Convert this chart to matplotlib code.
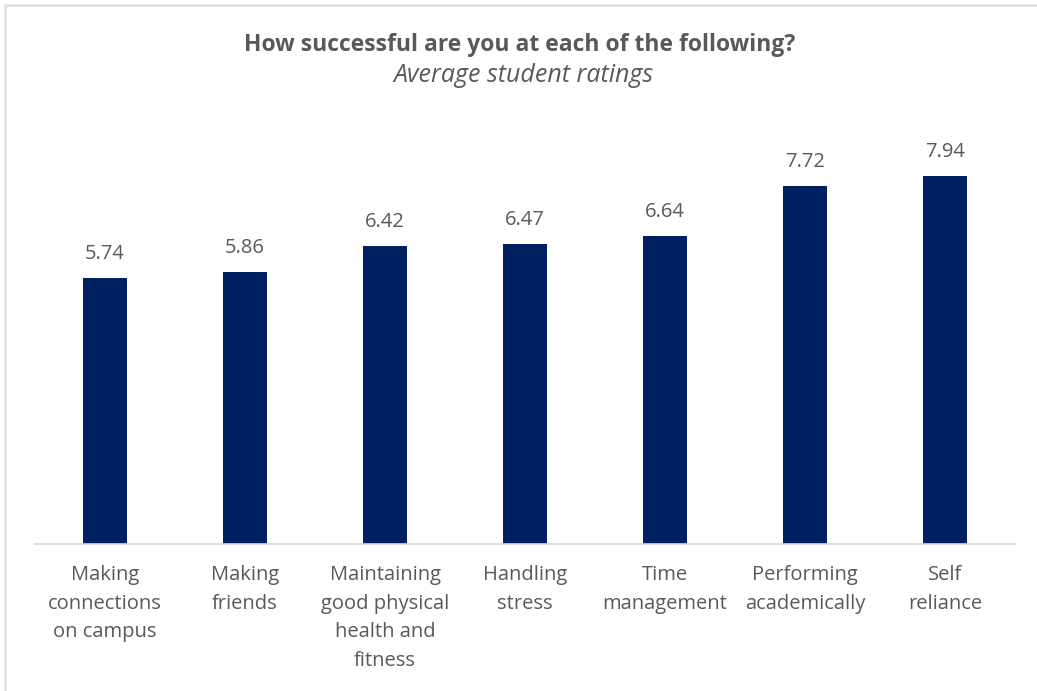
import matplotlib.pyplot as plt
from matplotlib.patches import Rectangle

# survey items and average ratings
categories = ['Making\nconnections\non campus', 'Making\nfriends',
              'Maintaining\ngood physical\nhealth and\nfitness',
              'Handling\nstress', 'Time\nmanagement', 'Performing\nacademically',
              'Self\nreliance']
ratings = [5.74, 5.86, 6.42, 6.47, 6.64, 7.72, 7.94]

text_col = '#595959'
plt.rcParams['font.family'] = ['Open Sans', 'DejaVu Sans']

fig = plt.figure(figsize=(10.37, 6.91), dpi=100)
ax = fig.add_axes([35 / 1037, 147 / 691, 980 / 1037, 464 / 691])

x = range(len(categories))
ax.bar(x, ratings, width=0.315, color='#002060')
for i, v in zip(x, ratings):
    ax.text(i, v + 0.3, f'{v:.2f}', ha='center', va='bottom',
            fontsize=14.5, color=text_col)

ax.set_xlim(-0.5, len(categories) - 0.5)
ax.set_ylim(0, 10)
ax.set_yticks([])
ax.set_xticks(list(x))
ax.set_xticklabels(categories, fontsize=14.5, color=text_col, linespacing=1.58)
ax.tick_params(axis='x', length=0, pad=15)
for s in ['top', 'right', 'left']:
    ax.spines[s].set_visible(False)
ax.spines['bottom'].set_color('#d9d9d9')
ax.spines['bottom'].set_linewidth(1.2)

fig.text(0.5015, 1 - 45 / 691, 'How successful are you at each of the following?',
         ha='center', va='center', fontsize=16.5, fontweight='bold', color=text_col)
fig.text(0.505, 1 - 76 / 691, 'Average student ratings', ha='center', va='center',
         fontsize=18, style='italic', color=text_col)

# light frame along top and left edge, as in the screenshot
fig.patches.append(Rectangle((5 / 1037, -0.1), 1.2, 1 - 5 / 691 + 0.1,
                             transform=fig.transFigure, fill=False,
                             edgecolor='#e0e0e0', linewidth=2))

fig.savefig('out.png', dpi=100)
